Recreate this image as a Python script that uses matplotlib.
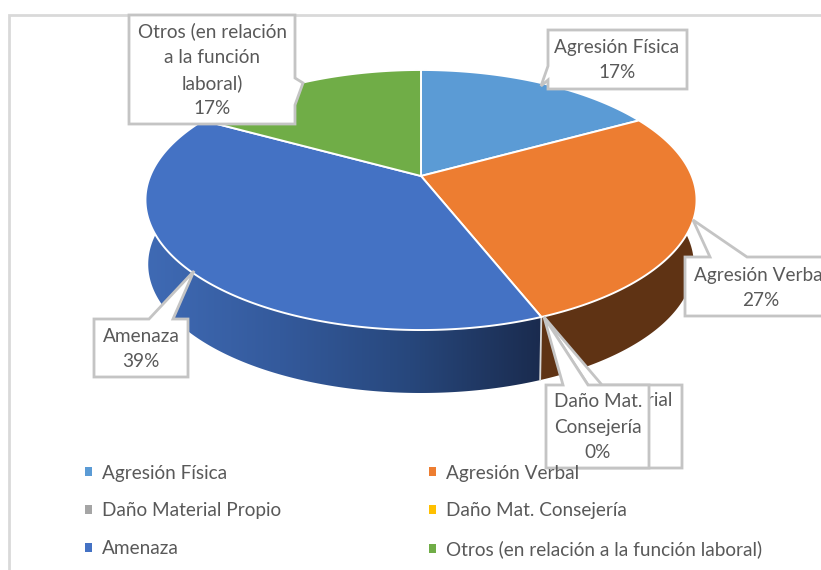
import numpy as np
import matplotlib
matplotlib.use('Agg')
import matplotlib.pyplot as plt
from matplotlib.patches import Polygon, Patch, Rectangle
from matplotlib.colors import LinearSegmentedColormap

plt.rcParams['font.family'] = ['Lato', 'DejaVu Sans']

# datos
categorias = ['Agresión Física', 'Agresión Verbal', 'Daño Material Propio',
              'Daño Mat. Consejería', 'Amenaza', 'Otros (en relación a la función laboral)']
valores = [17, 27, 0, 0, 39, 17]
colores = ['#5B9BD5', '#ED7D31', '#A5A5A5', '#FFC000', '#4472C4', '#70AD47']
etiquetas = ['Agresión Física', 'Agresión Verbal', 'Daño Material\nPropio',
             'Daño Mat.\nConsejería', 'Amenaza', 'Otros (en relación\na la función\nlaboral)']

GRIS = '#595959'
BORDE = '#c4c4c4'
TAM = 13.7
INTER = 1.58


# perspectiva del disco: angulo en grados desde arriba, sentido horario
def proyectar(ang, escala=1.0, dy=0.0):
    t = np.radians(ang)
    u, v = np.sin(t), -np.cos(t)
    w = 1 - 0.1846 * v
    x = 421 + escala * 270.8 * u / w
    y = 176 + escala * 125.6 * v / w + dy
    return np.column_stack([x, y])


def arco(a0, a1, escala=1.0, dy=0.0):
    n = max(int(abs(a1 - a0)) * 2, 2)
    return proyectar(np.linspace(a0, a1, n), escala, dy)


fig = plt.figure(figsize=(8.21, 5.70), dpi=100)
ax = fig.add_axes([0, 0, 1, 1])
ax.set_xlim(0, 821)
ax.set_ylim(570, 0)
ax.axis('off')

ax.add_patch(Rectangle((9, 15), 830, 570, fc='white', ec='#d9d9d9', lw=2, zorder=0))

cortes = np.concatenate([[0], np.cumsum(valores)]) * 360.0 / sum(valores)

# pared lateral
ESC, DY = 0.99, 64.5
i_verbal, i_amenaza = 1, 4
pared = np.vstack([arco(cortes[i_verbal], cortes[i_verbal + 1]),
                   arco(cortes[i_verbal + 1], cortes[i_verbal], ESC, DY)])
ax.add_patch(Polygon(pared, closed=True, fc='#5F3314', ec='none', zorder=1))

pared = np.vstack([arco(cortes[i_amenaza], cortes[i_amenaza + 1]),
                   arco(cortes[i_amenaza + 1], cortes[i_amenaza], ESC, DY)])
clip = Polygon(pared, closed=True, fc='none', ec='none', zorder=1)
ax.add_patch(clip)
degradado = LinearSegmentedColormap.from_list('pared', ['#3F6AB4', '#345A9C', '#27477C', '#1A2B4E'])
img = ax.imshow(np.linspace(0, 1, 256).reshape(1, -1), cmap=degradado, aspect='auto',
                extent=(148, 542, 400, 180), zorder=1)
img.set_clip_path(clip)
ax.set_xlim(0, 821)
ax.set_ylim(570, 0)

# separacion entre paredes
sep = proyectar(np.array([cortes[i_verbal + 1]]))[0]
sep2 = proyectar(np.array([cortes[i_verbal + 1]]), ESC, DY)[0]
ax.plot([sep[0], sep2[0]], [sep[1], sep2[1]], color='#d8d8d8', lw=1.3, zorder=1.5)

# caras superiores
centro = proyectar(np.array([0.0]), 0.0)
for i in range(len(valores)):
    if valores[i] == 0:
        continue
    puntos = np.vstack([centro, arco(cortes[i], cortes[i + 1])])
    ax.add_patch(Polygon(puntos, closed=True, fc=colores[i], ec='white', lw=1.4,
                         joinstyle='round', zorder=2))


# cuadros de etiqueta, en orden de dibujo
def cuadro(puntos, zorder=4):
    ax.add_patch(Polygon(puntos, closed=True, fc='white', ec=BORDE, lw=2,
                         joinstyle='miter', zorder=zorder))


def rotulo(i, x, y, zorder=5):
    ax.text(x, y, f'{etiquetas[i]}\n{valores[i]}%', ha='center', va='center', fontsize=TAM,
            color=GRIS, linespacing=INTER, zorder=zorder, clip_on=True)


cuadro([(548, 30), (687, 30), (687, 89), (548, 89), (548, 80), (541, 86), (548, 66)])
rotulo(0, 617, 60)

cuadro([(685, 257), (710, 257), (693, 220), (747, 257), (840, 257), (840, 316), (685, 316)])
rotulo(1, 761, 288)

cuadro([(94, 319), (149, 319), (194, 271), (173, 319), (188, 319), (188, 377), (94, 377)])
rotulo(4, 141, 349)

cuadro([(129, 15), (295, 15), (295, 78), (303, 83), (295, 105), (295, 124), (129, 124)])
rotulo(5, 212, 70)

# las dos de 0% se tapan
cuadro([(580, 385), (588, 385), (544, 317), (602, 385), (682, 385), (682, 468), (580, 468)], zorder=4.1)
ax.text(613, 401, 'Daño Material', ha='center', va='center', fontsize=TAM, color=GRIS,
        zorder=4.2)
cuadro([(546, 385), (563, 385), (544, 317), (588, 385), (649, 385), (649, 468), (546, 468)], zorder=4.3)
rotulo(3, 598, 427, zorder=4.4)

# leyenda
asas = [Patch(fc=c, ec='none') for c in colores]
orden = [0, 2, 4, 1, 3, 5]
ley = ax.legend([asas[i] for i in orden], [categorias[i] for i in orden], ncols=2, frameon=False,
                loc='upper left', bbox_to_anchor=(85 / 821, 1 - 464.5 / 570), fontsize=TAM,
                labelcolor=GRIS, handlelength=0.35, handleheight=0.35, handletextpad=0.53,
                labelspacing=1.1, columnspacing=7.8, borderpad=0, borderaxespad=0)
ley.set_zorder(8)

fig.savefig('out.png', dpi=100)
